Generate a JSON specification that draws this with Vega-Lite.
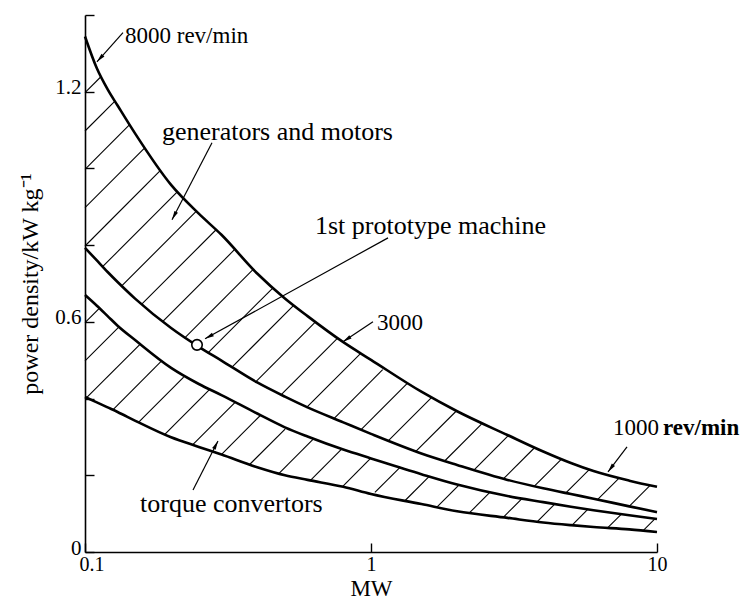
{
  "$schema": "https://vega.github.io/schema/vega-lite/v6.json",
  "width": 572,
  "height": 537,
  "autosize": {"type": "none"},
  "padding": {"left": 85, "top": 15, "right": 92, "bottom": 49},
  "background": "white",
  "config": {
    "view": {"stroke": null},
    "font": "Liberation Serif",
    "axis": {
      "domainColor": "black", "domainWidth": 1.6,
      "tickColor": "black", "tickWidth": 1.4, "tickSize": -9,
      "labelColor": "black", "labelFont": "Liberation Serif", "labelFontSize": 21,
      "titleFont": "Liberation Serif", "titleFontSize": 24, "titleFontWeight": "normal", "titleColor": "black",
      "grid": false, "labelPadding": 13, "labelFlush": false
    }
  },
  "encoding": {
    "x": {"field": "x", "type": "quantitative",
      "scale": {"type": "log", "domain": [0.1, 10], "nice": false},
      "axis": {"values": [0.1, 1, 10], "format": "~g", "title": "MW", "titleFontSize": 23, "titlePadding": 3, "labelPadding": 11, "labelFontSize": 20,
        "labelAlign": {"condition": {"test": "datum.value < 0.5", "value": "left"}, "value": "center"},
        "labelOffset": {"condition": {"test": "datum.value < 0.5", "value": -6}, "value": 0}}},
    "y": {"field": "y", "type": "quantitative",
      "scale": {"domain": [0, 1.4], "nice": false, "zero": false},
      "axis": {"values": [0, 0.2, 0.4, 0.6, 0.8, 1, 1.2, 1.4], "format": "~g", "labelOffset": -4,
        "labelExpr": "(abs(datum.value) < 0.01 || abs(datum.value - 0.6) < 0.01 || abs(datum.value - 1.2) < 0.01) ? datum.label : ''",
        "title": "power density/kW kg⁻¹", "titlePadding": 12}}
  },
  "layer": [
    {
      "data": {"values": [
        {"x": 0.1, "y": 1.1975, "x2": 0.1132, "y2": 1.2377},
        {"x": 0.1, "y": 1.0976, "x2": 0.1270, "y2": 1.1751},
        {"x": 0.1, "y": 0.9977, "x2": 0.1435, "y2": 1.1148},
        {"x": 0.1, "y": 0.8977, "x2": 0.1611, "y2": 1.0522},
        {"x": 0.1, "y": 0.7978, "x2": 0.1825, "y2": 0.9927},
        {"x": 0.1152, "y": 0.7438, "x2": 0.2102, "y2": 0.9387},
        {"x": 0.1344, "y": 0.6937, "x2": 0.2452, "y2": 0.8886},
        {"x": 0.1576, "y": 0.6455, "x2": 0.2873, "y2": 0.8401},
        {"x": 0.1868, "y": 0.6006, "x2": 0.3351, "y2": 0.7900},
        {"x": 0.2228, "y": 0.5578, "x2": 0.3865, "y2": 0.7362},
        {"x": 0.2697, "y": 0.5197, "x2": 0.4543, "y2": 0.6888},
        {"x": 0.3266, "y": 0.4819, "x2": 0.5375, "y2": 0.6434},
        {"x": 0.3953, "y": 0.4438, "x2": 0.6397, "y2": 0.5998},
        {"x": 0.4845, "y": 0.4099, "x2": 0.7644, "y2": 0.5575},
        {"x": 0.5969, "y": 0.3775, "x2": 0.9167, "y2": 0.5166},
        {"x": 0.7420, "y": 0.3480, "x2": 1.0987, "y2": 0.4754},
        {"x": 0.9249, "y": 0.3196, "x2": 1.3447, "y2": 0.4409},
        {"x": 1.1531, "y": 0.2912, "x2": 1.6235, "y2": 0.4020},
        {"x": 1.4378, "y": 0.2627, "x2": 1.9875, "y2": 0.3676},
        {"x": 1.8058, "y": 0.2366, "x2": 2.4339, "y2": 0.3334},
        {"x": 2.2897, "y": 0.2137, "x2": 3.0248, "y2": 0.3039},
        {"x": 2.9026, "y": 0.1907, "x2": 3.7295, "y2": 0.2718},
        {"x": 3.7261, "y": 0.1717, "x2": 4.6163, "y2": 0.2411},
        {"x": 4.8029, "y": 0.1539, "x2": 5.794, "y2": 0.2147},
        {"x": 6.194, "y": 0.1364, "x2": 7.354, "y2": 0.1920},
        {"x": 7.993, "y": 0.1192, "x2": 9.460, "y2": 0.1738},
        {"x": 0.1, "y": 0.5980, "x2": 0.1122, "y2": 0.6353},
        {"x": 0.1, "y": 0.4980, "x2": 0.1315, "y2": 0.5868},
        {"x": 0.1013, "y": 0.4023, "x2": 0.1560, "y2": 0.5421},
        {"x": 0.1251, "y": 0.3707, "x2": 0.1853, "y2": 0.4980},
        {"x": 0.1541, "y": 0.3384, "x2": 0.2213, "y2": 0.4558},
        {"x": 0.1901, "y": 0.3066, "x2": 0.2740, "y2": 0.4250},
        {"x": 0.2382, "y": 0.2797, "x2": 0.3348, "y2": 0.3900},
        {"x": 0.2997, "y": 0.2541, "x2": 0.4102, "y2": 0.3559},
        {"x": 0.3757, "y": 0.2275, "x2": 0.5008, "y2": 0.3206},
        {"x": 0.4760, "y": 0.2043, "x2": 0.6305, "y2": 0.2953},
        {"x": 0.6129, "y": 0.1863, "x2": 0.7907, "y2": 0.2687},
        {"x": 0.7950, "y": 0.1706, "x2": 0.9984, "y2": 0.2445},
        {"x": 1.0318, "y": 0.1552, "x2": 1.2657, "y2": 0.2215},
        {"x": 1.3190, "y": 0.1349, "x2": 1.5950, "y2": 0.1965},
        {"x": 1.6930, "y": 0.1158, "x2": 2.0324, "y2": 0.1751},
        {"x": 2.2029, "y": 0.1012, "x2": 2.6025, "y2": 0.1552},
        {"x": 2.9006, "y": 0.0905, "x2": 3.379, "y2": 0.1398},
        {"x": 3.8146, "y": 0.0793, "x2": 4.3881, "y2": 0.1247},
        {"x": 5.0394, "y": 0.0697, "x2": 5.738, "y2": 0.1117},
        {"x": 6.730, "y": 0.0634, "x2": 7.509, "y2": 0.0989},
        {"x": 8.942, "y": 0.0556, "x2": 9.849, "y2": 0.0869}
      ]},
      "mark": {"type": "rule", "color": "black", "strokeWidth": 1.1},
      "encoding": {"x2": {"field": "x2"}, "y2": {"field": "y2"}}
    },
    {
      "data": {"values": [
        {"s": "T", "x": 0.1, "y": 1.344}, {"s": "T", "x": 0.11, "y": 1.261}, {"s": "T", "x": 0.12, "y": 1.206}, {"s": "T", "x": 0.13, "y": 1.164}, {"s": "T", "x": 0.15, "y": 1.090}, {"s": "T", "x": 0.2, "y": 0.957}, {"s": "T", "x": 0.25, "y": 0.882}, {"s": "T", "x": 0.3, "y": 0.827}, {"s": "T", "x": 0.4, "y": 0.726}, {"s": "T", "x": 0.5, "y": 0.661}, {"s": "T", "x": 0.6, "y": 0.615}, {"s": "T", "x": 0.8, "y": 0.547}, {"s": "T", "x": 1, "y": 0.501}, {"s": "T", "x": 1.5, "y": 0.418}, {"s": "T", "x": 2, "y": 0.367}, {"s": "T", "x": 3, "y": 0.305}, {"s": "T", "x": 4, "y": 0.262}, {"s": "T", "x": 5, "y": 0.232}, {"s": "T", "x": 6, "y": 0.211}, {"s": "T", "x": 8, "y": 0.186}, {"s": "T", "x": 10, "y": 0.170},
        {"s": "U", "x": 0.1, "y": 0.793}, {"s": "U", "x": 0.11, "y": 0.760}, {"s": "U", "x": 0.12, "y": 0.730}, {"s": "U", "x": 0.13, "y": 0.704}, {"s": "U", "x": 0.15, "y": 0.660}, {"s": "U", "x": 0.2, "y": 0.584}, {"s": "U", "x": 0.25, "y": 0.535}, {"s": "U", "x": 0.3, "y": 0.499}, {"s": "U", "x": 0.4, "y": 0.442}, {"s": "U", "x": 0.5, "y": 0.405}, {"s": "U", "x": 0.6, "y": 0.377}, {"s": "U", "x": 0.8, "y": 0.338}, {"s": "U", "x": 1, "y": 0.308}, {"s": "U", "x": 1.5, "y": 0.257}, {"s": "U", "x": 2, "y": 0.227}, {"s": "U", "x": 3, "y": 0.188}, {"s": "U", "x": 4, "y": 0.166}, {"s": "U", "x": 5, "y": 0.151}, {"s": "U", "x": 6, "y": 0.139}, {"s": "U", "x": 8, "y": 0.119}, {"s": "U", "x": 10, "y": 0.104},
        {"s": "L", "x": 0.1, "y": 0.670}, {"s": "L", "x": 0.11, "y": 0.642}, {"s": "L", "x": 0.12, "y": 0.615}, {"s": "L", "x": 0.13, "y": 0.590}, {"s": "L", "x": 0.15, "y": 0.552}, {"s": "L", "x": 0.2, "y": 0.480}, {"s": "L", "x": 0.25, "y": 0.438}, {"s": "L", "x": 0.3, "y": 0.409}, {"s": "L", "x": 0.4, "y": 0.361}, {"s": "L", "x": 0.5, "y": 0.325}, {"s": "L", "x": 0.6, "y": 0.301}, {"s": "L", "x": 0.8, "y": 0.267}, {"s": "L", "x": 1, "y": 0.244}, {"s": "L", "x": 1.5, "y": 0.203}, {"s": "L", "x": 2, "y": 0.176}, {"s": "L", "x": 3, "y": 0.146}, {"s": "L", "x": 4, "y": 0.130}, {"s": "L", "x": 5, "y": 0.118}, {"s": "L", "x": 6, "y": 0.109}, {"s": "L", "x": 8, "y": 0.096}, {"s": "L", "x": 10, "y": 0.086},
        {"s": "B", "x": 0.1, "y": 0.404}, {"s": "B", "x": 0.11, "y": 0.390}, {"s": "B", "x": 0.12, "y": 0.377}, {"s": "B", "x": 0.13, "y": 0.365}, {"s": "B", "x": 0.15, "y": 0.342}, {"s": "B", "x": 0.2, "y": 0.299}, {"s": "B", "x": 0.25, "y": 0.274}, {"s": "B", "x": 0.3, "y": 0.254}, {"s": "B", "x": 0.4, "y": 0.221}, {"s": "B", "x": 0.5, "y": 0.200}, {"s": "B", "x": 0.6, "y": 0.188}, {"s": "B", "x": 0.8, "y": 0.170}, {"s": "B", "x": 1, "y": 0.151}, {"s": "B", "x": 1.5, "y": 0.125}, {"s": "B", "x": 2, "y": 0.106}, {"s": "B", "x": 3, "y": 0.089}, {"s": "B", "x": 4, "y": 0.077}, {"s": "B", "x": 5, "y": 0.070}, {"s": "B", "x": 6, "y": 0.065}, {"s": "B", "x": 8, "y": 0.059}, {"s": "B", "x": 10, "y": 0.052}
      ]},
      "mark": {"type": "line", "color": "black", "strokeWidth": 2.6, "interpolate": "monotone"},
      "encoding": {"detail": {"field": "s", "type": "nominal"}}
    },
    {
      "data": {"values": [
        {"x": 0.1358, "y": 1.354, "x2": 0.1101, "y2": 1.278},
        {"x": 0.278, "y": 1.067, "x2": 0.2015, "y2": 0.866},
        {"x": 1.147, "y": 0.819, "x2": 0.2628, "y2": 0.5557},
        {"x": 1.016, "y": 0.600, "x2": 0.798, "y2": 0.548},
        {"x": 0.2386, "y": 0.1618, "x2": 0.2917, "y2": 0.2896},
        {"x": 7.855, "y": 0.274, "x2": 6.74, "y2": 0.2087}
      ]},
      "mark": {"type": "rule", "color": "black", "strokeWidth": 1.2},
      "encoding": {"x2": {"field": "x2"}, "y2": {"field": "y2"}}
    },
    {
      "data": {"values": [
        {"x": 0.1101, "y": 1.278, "ang": 222},
        {"x": 0.2015, "y": 0.866, "ang": 207.5},
        {"x": 0.2628, "y": 0.5557, "ang": 241},
        {"x": 0.798, "y": 0.548, "ang": 236},
        {"x": 0.2917, "y": 0.2896, "ang": 27},
        {"x": 6.74, "y": 0.2087, "ang": 217}
      ]},
      "mark": {"type": "point", "shape": "M0,0L0.22,1L-0.22,1Z", "filled": true, "color": "black", "opacity": 1, "size": 324, "strokeWidth": 0},
      "encoding": {"angle": {"field": "ang", "type": "quantitative", "scale": null}}
    },
    {
      "data": {"values": [{"x": 0.2464, "y": 0.540}]},
      "mark": {"type": "point", "shape": "circle", "filled": true, "fill": "white", "stroke": "black", "strokeWidth": 1.6, "size": 110, "opacity": 1}
    },
    {
      "data": {"values": [
        {"x": 0.1858, "y": 1.075, "t": "generators and motors"},
        {"x": 0.637, "y": 0.830, "t": "1st prototype machine"},
        {"x": 0.1557, "y": 0.105, "t": "torque convertors"}
      ]},
      "mark": {"type": "text", "align": "left", "baseline": "alphabetic", "fontSize": 26, "color": "black"},
      "encoding": {"text": {"field": "t"}}
    },
    {
      "data": {"values": [
        {"x": 0.138, "y": 1.328, "t": "8000 rev/min"},
        {"x": 1.049, "y": 0.579, "t": "3000"},
        {"x": 7.02, "y": 0.305, "t": "1000"}
      ]},
      "mark": {"type": "text", "align": "left", "baseline": "alphabetic", "fontSize": 23, "color": "black"},
      "encoding": {"text": {"field": "t"}}
    },
    {
      "data": {"values": [{"x": 10.5, "y": 0.305, "t": "rev/min"}]},
      "mark": {"type": "text", "align": "left", "baseline": "alphabetic", "fontSize": 23, "fontWeight": "bold", "color": "black"},
      "encoding": {"text": {"field": "t"}}
    }
  ]
}
